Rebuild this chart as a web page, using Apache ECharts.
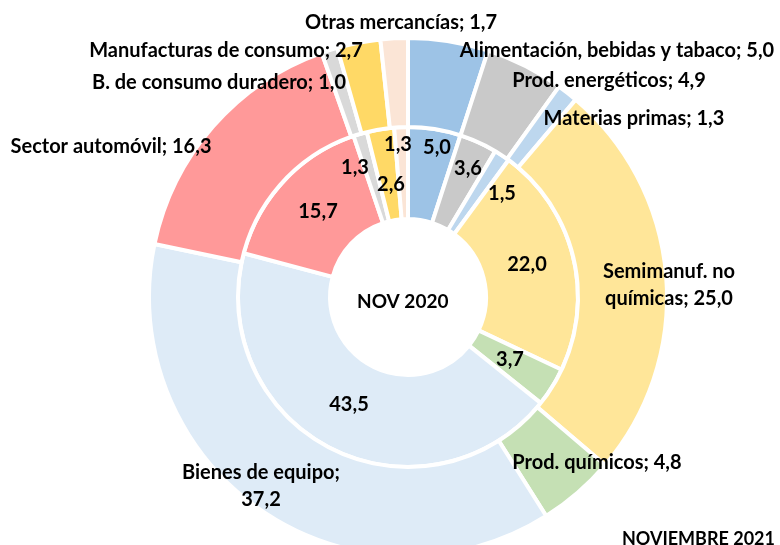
<!DOCTYPE html>
<html>
<head>
<meta charset="utf-8">
<script src="https://cdn.jsdelivr.net/npm/echarts@6/dist/echarts.min.js"></script>
<style>
  html, body { margin: 0; padding: 0; background: #fff; }
  #chart { width: 780px; height: 545px; }
</style>
</head>
<body>
<div id="chart"></div>
<script>
// sectors, clockwise from 12 o'clock
var categories = ['Alimentación, bebidas y tabaco', 'Prod. energéticos', 'Materias primas',
  'Semimanuf. no químicas', 'Prod. químicos', 'Bienes de equipo', 'Sector automóvil',
  'B. de consumo duradero', 'Manufacturas de consumo', 'Otras mercancías'];
var nov2020 = [5.0, 3.6, 1.5, 22.0, 3.7, 43.5, 15.7, 1.3, 2.6, 1.3];
var nov2021 = [5.0, 4.9, 1.3, 25.0, 4.8, 37.2, 16.3, 1.0, 2.7, 1.7];

var colors = ['#9DC3E6', '#C9C9C9', '#BDD7EE', '#FFE699', '#C5E0B4',
  '#DEEBF7', '#FF9999', '#D9D9D9', '#FFD966', '#FBE5D6'];

// label placement (px, text centre) -- hand placed in the original
var outerLabelPos = [[617, 51], [609, 81], [634, 119], [669, 285], [597, 463],
  [261, 486], [111, 147], [219, 83], [226, 51], [401, 23]];
var innerLabelPos = [[437, 148], [468, 169], [502, 194], [527, 265], [510, 360],
  [349, 405], [318, 212], [355, 168], [391, 185], [398, 145]];

var FONT = 'Lato';
var fmt = function (v) { return v.toFixed(1).replace('.', ','); };

function outerText(i) {
  var name = categories[i];
  if (i === 3) return 'Semimanuf. no\nquímicas; ' + fmt(nov2021[i]);
  if (i === 5) return name + ';\n' + fmt(nov2021[i]);
  return name + '; ' + fmt(nov2021[i]);
}

function makeData(vals) {
  return vals.map(function (v, i) {
    return { name: categories[i], value: v, itemStyle: { color: colors[i] } };
  });
}

var labelStyle = {
  color: '#000',
  fontFamily: FONT,
  fontWeight: 'bold',
  fontSize: 20,
  lineHeight: 27
};

var chart = echarts.init(document.getElementById('chart'), null, { renderer: 'canvas' });

chart.setOption({
  animation: false,
  series: [
    {
      type: 'pie',
      name: 'NOV 2020',
      center: [408, 297],
      radius: [78, 170],
      startAngle: 90,
      clockwise: true,
      avoidLabelOverlap: false,
      silent: true,
      itemStyle: { borderColor: '#fff', borderWidth: 4 },
      label: Object.assign({ show: true, position: 'inside',
        formatter: function (p) { return fmt(p.value); } }, labelStyle),
      labelLine: { show: false },
      labelLayout: function (p) {
        var pos = innerLabelPos[p.dataIndex];
        return { x: pos[0], y: pos[1], align: 'center', verticalAlign: 'middle' };
      },
      data: makeData(nov2020)
    },
    {
      type: 'pie',
      name: 'NOVIEMBRE 2021',
      center: [408, 297],
      radius: [170, 259],
      startAngle: 90,
      clockwise: true,
      avoidLabelOverlap: false,
      silent: true,
      itemStyle: { borderColor: '#fff', borderWidth: 4 },
      label: Object.assign({ show: true, position: 'inside',
        formatter: function (p) { return outerText(p.dataIndex); } }, labelStyle),
      labelLine: { show: false },
      labelLayout: function (p) {
        var pos = outerLabelPos[p.dataIndex];
        return { x: pos[0], y: pos[1], align: 'center', verticalAlign: 'middle' };
      },
      data: makeData(nov2021)
    }
  ],
  graphic: [
    {
      type: 'text',
      left: 402 - 45,
      top: 303 - 11,
      style: { text: 'NOV 2020', fill: '#000', font: 'bold 19px Lato' },
      z: 100
    },
    {
      type: 'text',
      right: 5,
      top: 530,
      style: { text: 'NOVIEMBRE 2021', fill: '#000', font: 'bold 18px Lato' },
      z: 100
    }
  ]
});
</script>
</body>
</html>
